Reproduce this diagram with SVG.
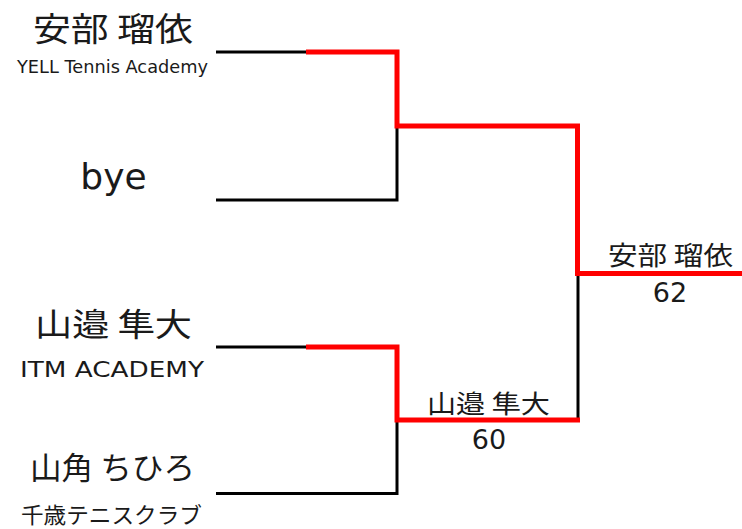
<svg xmlns="http://www.w3.org/2000/svg" width="742" height="529" viewBox="0 0 742 529">
<style>
.bg{fill:#fff}
.blk{fill:none;stroke:#000;stroke-width:3;stroke-linejoin:miter}
.red{fill:none;stroke:#ff0000;stroke-width:5;stroke-linejoin:miter}
.jp{font-family:"Noto Sans CJK JP","Noto Sans",sans-serif;fill:#1a1a1a;text-anchor:middle}
.lt{font-family:"DejaVu Sans","Liberation Sans",sans-serif;fill:#1a1a1a;text-anchor:middle}
</style>
<rect class="bg" x="0" y="0" width="742" height="529"/>
<g id="connectors">
<path class="blk" d="M216,52 H306"/>
<path class="blk" d="M397,126 V200 H216"/>
<path class="blk" d="M216,347 H306"/>
<path class="blk" d="M397,420 V493.5 H216"/>
<path class="blk" d="M578,273.5 V420"/>
<path class="red" d="M306,52 H397 V126 H577.5 V273.5 H742"/>
<path class="red" d="M306,347 H397 V420 H580"/>
</g>
<g id="p1">
<text class="jp" x="113" y="41" font-size="33" textLength="160" lengthAdjust="spacingAndGlyphs">安部 瑠依</text>
<text class="lt" x="112.5" y="73" font-size="17" textLength="191" lengthAdjust="spacingAndGlyphs">YELL Tennis Academy</text>
</g>
<g id="p2">
<text class="lt" x="113.5" y="189" font-size="36">bye</text>
</g>
<g id="p3">
<text class="jp" x="113.5" y="336" font-size="32" textLength="157" lengthAdjust="spacingAndGlyphs">山邉 隼大</text>
<text class="lt" x="112" y="377" font-size="22" textLength="184" lengthAdjust="spacingAndGlyphs">ITM ACADEMY</text>
</g>
<g id="p4">
<text class="jp" x="112.5" y="479" font-size="31" textLength="165" lengthAdjust="spacingAndGlyphs">山角 ちひろ</text>
<text class="jp" x="111.5" y="523" font-size="22" textLength="181" lengthAdjust="spacingAndGlyphs">千歳テニスクラブ</text>
</g>
<g id="w1">
<text class="jp" x="488.5" y="413" font-size="25" textLength="123" lengthAdjust="spacingAndGlyphs">山邉 隼大</text>
<text class="lt" x="489" y="449" font-size="27">60</text>
</g>
<g id="w2">
<text class="jp" x="670.5" y="265" font-size="26" textLength="125" lengthAdjust="spacingAndGlyphs">安部 瑠依</text>
<text class="lt" x="670" y="302" font-size="27">62</text>
</g>
</svg>
